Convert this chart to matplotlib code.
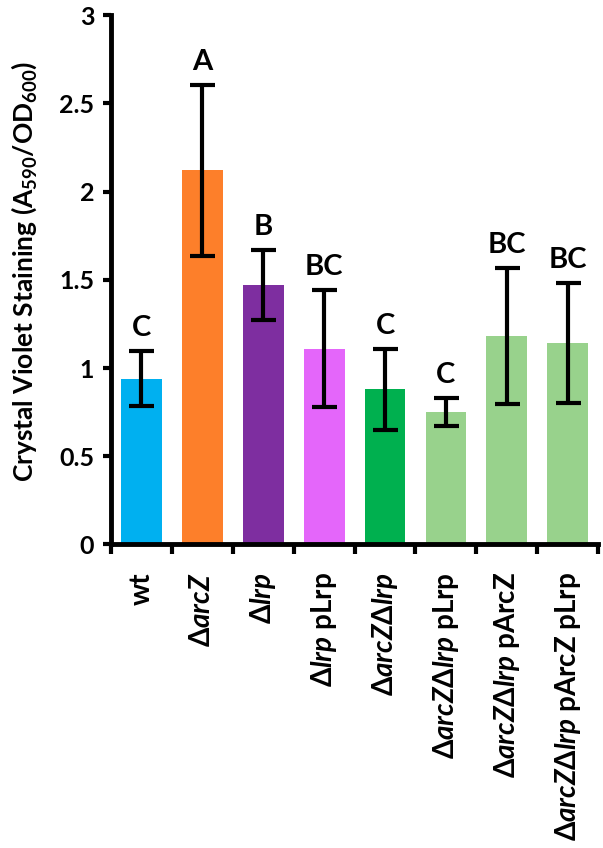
import numpy as np
import matplotlib
matplotlib.use("Agg")
import matplotlib.pyplot as plt

plt.rcParams['font.family'] = ['Lato', 'Open Sans', 'DejaVu Sans']
plt.rcParams['font.weight'] = 'bold'
plt.rcParams['mathtext.fontset'] = 'custom'
plt.rcParams['mathtext.rm'] = 'Lato:bold'
plt.rcParams['mathtext.it'] = 'Lato:italic:bold'
plt.rcParams['mathtext.bf'] = 'Lato:bold'

# --- data ---
labels = ["wt",
          r"$\mathit{ΔarcZ}$",
          r"$\mathit{Δlrp}$",
          r"$\mathit{Δlrp}$ pLrp",
          r"$\mathit{ΔarcZΔlrp}$",
          r"$\mathit{ΔarcZΔlrp}$ pLrp",
          r"$\mathit{ΔarcZΔlrp}$ pArcZ",
          r"$\mathit{ΔarcZΔlrp}$ pArcZ pLrp"]
means = [0.94, 2.12, 1.47, 1.11, 0.88, 0.75, 1.18, 1.14]
errors = [0.155, 0.485, 0.20, 0.33, 0.23, 0.08, 0.385, 0.34]
groups = ["C", "A", "B", "BC", "C", "C", "BC", "BC"]
colors = ["#00B0F0", "#FD7F2A", "#7E2EA0", "#E466FA", "#00B04F",
          "#98D28C", "#98D28C", "#98D28C"]

fig = plt.figure(figsize=(6.03, 8.48), dpi=100)
ax = fig.add_axes([0.184, 0.358, 0.808, 0.624])

x = np.arange(len(means))
ax.bar(x, means, width=0.67, color=colors, zorder=1)
ax.errorbar(x, means, yerr=errors, fmt='none', ecolor='black',
            elinewidth=3, capsize=9, capthick=3, zorder=2)

# significance letters
for xi, m, e, g in zip(x, means, errors, groups):
    ax.text(xi, m + e + 0.085, g, ha='center', va='baseline',
            fontsize=21, fontweight='bold')

ax.set_xlim(-0.5, len(means) - 0.5)
ax.set_ylim(0, 3)
ax.set_yticks(np.arange(0, 3.01, 0.5))
ax.set_yticklabels(["0", "0.5", "1", "1.5", "2", "2.5", "3"])
ax.tick_params(axis='y', labelsize=18, width=3, length=6, pad=6)

# ticks at the category boundaries, labels at the centres
ax.set_xticks(np.arange(-0.5, len(means), 1.0))
ax.set_xticklabels([])
ax.tick_params(axis='x', which='major', width=3, length=7)
ax.set_xticks(x, minor=True)
ax.set_xticklabels(labels, minor=True, rotation=90, fontsize=20,
                   fontweight='bold', va='top', ha='center')
ax.tick_params(axis='x', which='minor', length=0, pad=20)

for side in ['top', 'right']:
    ax.spines[side].set_visible(False)
for side in ['left', 'bottom']:
    ax.spines[side].set_linewidth(3.5)

ax.set_ylabel(r"Crystal Violet Staining (A$_{590}$/OD$_{600}$)",
              fontsize=19, fontweight='bold', labelpad=8)
ax.yaxis.set_label_coords(-0.148, 0.515)

fig.savefig("out.png", dpi=100)
